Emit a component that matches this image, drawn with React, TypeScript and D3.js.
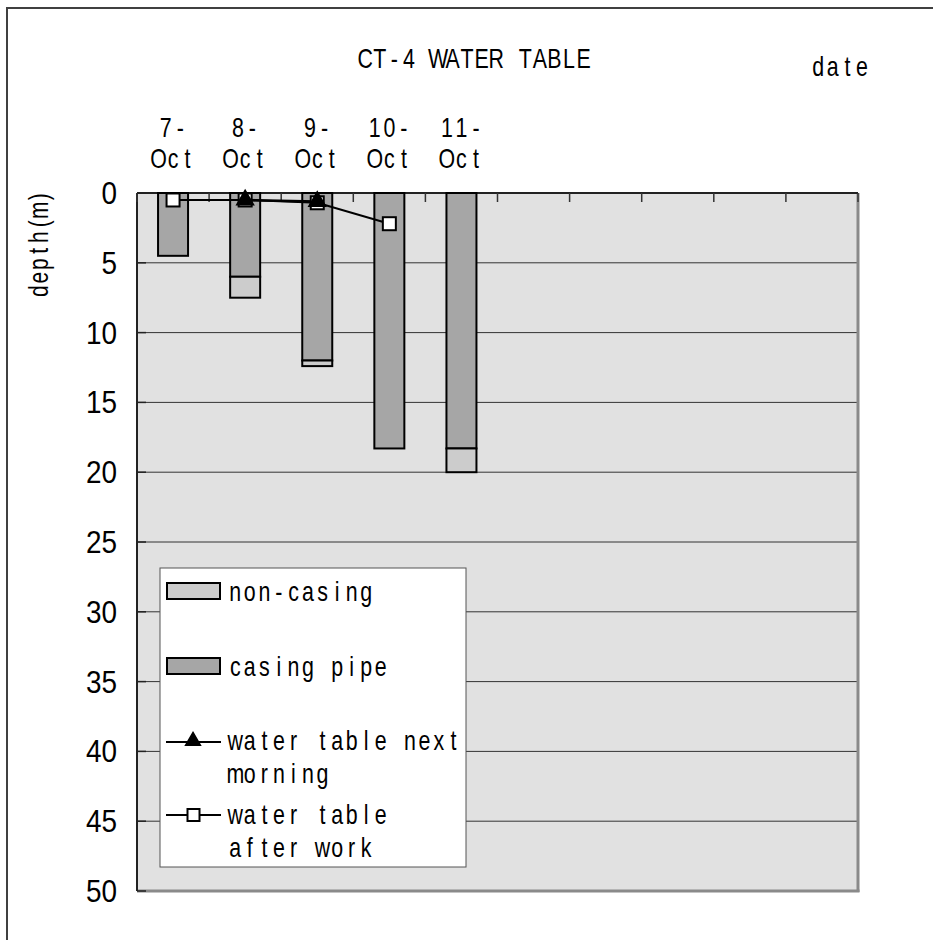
import React from "react";
import * as d3 from "d3";

const categories = ["7-Oct", "8-Oct", "9-Oct", "10-Oct", "11-Oct", "", "", "", "", ""];
const casingPipe = [4.5, 6.0, 12.0, 18.3, 18.3, null, null, null, null, null];
const nonCasing = [0, 1.5, 0.4, 0, 1.7, null, null, null, null, null];
const waterNextMorning = [null, 0.5, 0.6, null, null, null, null, null, null, null];
const waterAfterWork = [0.5, 0.5, 0.7, 2.2, null, null, null, null, null, null];
const yTicks = [0, 5, 10, 15, 20, 25, 30, 35, 40, 45, 50];

const W = 933;
const H = 940;
const PL = 137, PR = 858, PT = 193, PB = 891;

const FONT = "'Liberation Sans', Arial, sans-serif";
const ADV = 14.55;

// monospace-style text: each character centred in a fixed-width cell
function MText(props: {
  x: number; y: number; size: number; sx?: number; adv?: number;
  anchor?: "start" | "middle"; rotate?: number; text: string;
}) {
  const sx = props.sx ?? 0.75;
  const adv = props.adv ?? ADV;
  const chars = Array.from(props.text);
  const total = chars.length * adv;
  const start = props.anchor === "middle" ? -total / 2 : 0;
  const xs = chars.map((_, i) => ((start + (i + 0.5) * adv) / sx).toFixed(2)).join(" ");
  const rot = props.rotate ? ` rotate(${props.rotate})` : "";
  return (
    <text
      transform={`translate(${props.x},${props.y})${rot} scale(${sx},1)`}
      fontFamily={FONT}
      fontSize={props.size}
      textAnchor="middle"
      x={xs}
      fill="#000"
    >
      {props.text}
    </text>
  );
}

export default function App() {
  const x = d3.scaleBand<number>().domain(d3.range(categories.length)).range([PL, PR]).paddingInner(0).paddingOuter(0);
  const y = d3.scaleLinear().domain([0, 50]).range([PT, PB]);
  const bw = 30;
  const cx = (i: number) => (x(i) as number) + x.bandwidth() / 2;

  const lineGen = d3.line<[number, number | null]>()
    .defined((d) => d[1] != null)
    .x((d) => cx(d[0]))
    .y((d) => y(d[1] as number));

  const afterPts = waterAfterWork.map((v, i) => [i, v] as [number, number | null]);
  const nextPts = waterNextMorning.map((v, i) => [i, v] as [number, number | null]);

  const triPath = d3.symbol().type(d3.symbolTriangle).size(110)() as string;
  const triLegend = d3.symbol().type(d3.symbolTriangle).size(95)() as string;

  const FS = 28.5;

  return (
    <svg width={W} height={H} style={{ position: "absolute", left: 0, top: 0 }}>
      <rect x={0} y={0} width={W} height={H} fill="#fff" />
      {/* outer chart border */}
      <rect x={7} y={8} width={W + 20} height={H + 20} fill="none" stroke="#404040" strokeWidth={2} />

      {/* title */}
      <MText x={358} y={68} size={FS} text="CT-4 WATER TABLE" />
      <MText x={811} y={76} size={FS} text="date" />

      {/* plot area */}
      <rect x={PL} y={PT} width={PR - PL} height={PB - PT} fill="#e1e1e1" />
      {yTicks.slice(1, -1).map((t) => (
        <line key={t} x1={PL} x2={PR} y1={y(t)} y2={y(t)} stroke="#333" strokeWidth={1} />
      ))}
      {/* right/bottom gray frame */}
      <line x1={PR} x2={PR} y1={PT} y2={PB + 1} stroke="#8a8a8a" strokeWidth={3} />
      <line x1={PL} x2={PR + 1.5} y1={PB} y2={PB} stroke="#8a8a8a" strokeWidth={3} />
      {/* left axis and top axis */}
      <line x1={PL} x2={PL} y1={PT} y2={PB} stroke="#222" strokeWidth={2} />
      <line x1={PL} x2={PR} y1={PT} y2={PT} stroke="#222" strokeWidth={2} />
      {d3.range(categories.length + 1).map((i) => {
        const xx = i < categories.length ? (x(i) as number) : PR;
        return <line key={i} x1={xx} x2={xx} y1={PT} y2={PT + 9} stroke="#333" strokeWidth={1.5} />;
      })}
      {yTicks.map((t) => (
        <line key={t} x1={PL} x2={PL + 9} y1={y(t)} y2={y(t)} stroke="#222" strokeWidth={1.5} />
      ))}

      {/* bars */}
      {categories.map((c, i) => {
        const cp = casingPipe[i];
        const nc = nonCasing[i];
        if (cp == null) return null;
        const x0 = cx(i) - bw / 2;
        return (
          <g key={i}>
            <rect x={x0} y={y(0)} width={bw} height={y(cp) - y(0)} fill="#a6a6a6" stroke="#000" strokeWidth={2} />
            {nc != null && nc > 0 && (
              <rect x={x0} y={y(cp)} width={bw} height={y(cp + nc) - y(cp)} fill="#cccccc" stroke="#000" strokeWidth={2} />
            )}
          </g>
        );
      })}

      {/* lines */}
      <path d={lineGen(afterPts) as string} fill="none" stroke="#000" strokeWidth={2} />
      <path d={lineGen(nextPts) as string} fill="none" stroke="#000" strokeWidth={2.5} />
      {afterPts.filter((d) => d[1] != null).map((d) => (
        <rect key={"s" + d[0]} x={cx(d[0]) - 6.5} y={y(d[1] as number) - 6.5} width={13} height={13} fill="#fff" stroke="#000" strokeWidth={2} />
      ))}
      {nextPts.filter((d) => d[1] != null).map((d) => (
        <path key={"t" + d[0]} d={triPath} transform={`translate(${cx(d[0])},${y(d[1] as number)})`} fill="#000" stroke="#000" strokeWidth={2} />
      ))}

      {/* y tick labels */}
      {yTicks.map((t) => (
        <text key={t} transform={`translate(117,${y(t) + 11}) scale(0.9,1)`} fontFamily={FONT} fontSize={31} textAnchor="end" fill="#000">{String(t)}</text>
      ))}
      <MText x={48} y={244} size={28} adv={13.5} rotate={-90} anchor="middle" text="depth(m)" />

      {/* category labels */}
      {categories.map((c, i) => {
        if (!c) return null;
        const [d, m] = c.split("-");
        return (
          <g key={i}>
            <MText x={cx(i)} y={137} size={FS} anchor="middle" text={d + "-"} />
            <MText x={cx(i)} y={168} size={FS} anchor="middle" text={m} />
          </g>
        );
      })}

      {/* legend */}
      <rect x={160} y={568} width={306} height={299} fill="#fff" stroke="#555" strokeWidth={1} />
      <rect x={167} y={583} width={53} height={16} fill="#cccccc" stroke="#000" strokeWidth={2} />
      <MText x={228} y={601} size={FS} text="non-casing" />
      <rect x={167} y={658} width={53} height={16} fill="#a6a6a6" stroke="#000" strokeWidth={2} />
      <MText x={228} y={676} size={FS} text="casing pipe" />
      <line x1={166} x2={221} y1={742} y2={742} stroke="#000" strokeWidth={2} />
      <path d={triLegend} transform={`translate(193,741)`} fill="#000" stroke="#000" strokeWidth={1.5} />
      <MText x={228} y={750} size={FS} text="water table next" />
      <MText x={228} y={783} size={FS} text="morning" />
      <line x1={166} x2={221} y1={815} y2={815} stroke="#000" strokeWidth={2} />
      <rect x={187.5} y={809} width={12} height={12} fill="#fff" stroke="#000" strokeWidth={2} />
      <MText x={228} y={824} size={FS} text="water table" />
      <MText x={228} y={857} size={FS} text="after work" />
    </svg>
  );
}
